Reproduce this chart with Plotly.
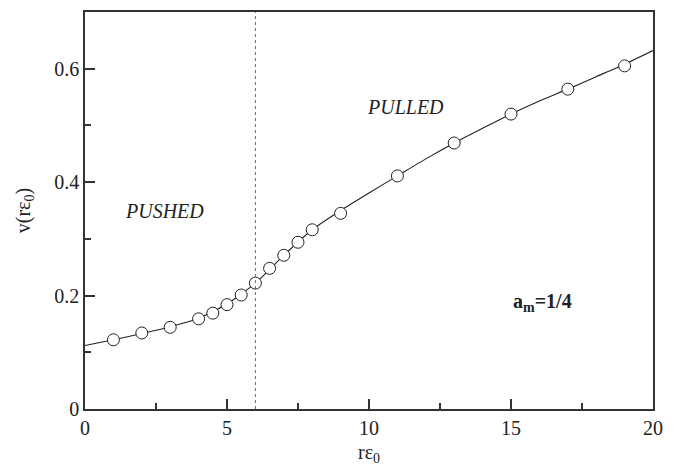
import plotly.graph_objects as go

# Data
pts_x = [1, 2, 3, 4, 4.5, 5, 5.5, 6, 6.5, 7, 7.5, 8, 9, 11, 13, 15, 17, 19]
pts_y = [0.122, 0.134, 0.144, 0.159, 0.169, 0.184, 0.201, 0.222, 0.248, 0.271,
         0.294, 0.316, 0.345, 0.411, 0.469, 0.520, 0.564, 0.605]

curve_x = [0, 1, 2, 3, 4, 5, 6, 7, 8, 9, 10, 11, 12, 13, 14, 15, 16, 17, 18, 19, 20]
curve_y = [0.112, 0.122, 0.133, 0.145, 0.160, 0.185, 0.222, 0.271, 0.316, 0.350,
           0.381, 0.411, 0.441, 0.469, 0.495, 0.520, 0.543, 0.564, 0.586, 0.608, 0.632]

x_ticks = [0, 5, 10, 15, 20]
y_ticks = [0, 0.2, 0.4, 0.6]
y_tick_labels = ["0", "0.2", "0.4", "0.6"]
boundary_x = 6

FONT = "Liberation Serif, Times New Roman, serif"
INK = "#222222"

fig = go.Figure()
fig.add_trace(go.Scatter(x=curve_x, y=curve_y, mode="lines",
                         line=dict(color=INK, width=1.1, shape="spline", smoothing=0.6),
                         hoverinfo="skip", showlegend=False))
fig.add_trace(go.Scatter(x=pts_x, y=pts_y, mode="markers",
                         marker=dict(symbol="circle", size=12, color="white",
                                     line=dict(color=INK, width=1)),
                         showlegend=False))

fig.add_shape(type="line", x0=boundary_x, x1=boundary_x, y0=0, y1=1,
              xref="x", yref="paper",
              line=dict(color="#666666", width=1, dash="dot"))

fig.add_annotation(x=2.8, y=0.349, text="<i>PUSHED</i>", showarrow=False,
                   font=dict(family=FONT, size=20, color=INK))
fig.add_annotation(x=11.3, y=0.533, text="<i>PULLED</i>", showarrow=False,
                   font=dict(family=FONT, size=20, color=INK))
fig.add_annotation(x=16.1, y=0.187, text="<b>a<sub>m</sub>=1/4</b>", showarrow=False,
                   font=dict(family=FONT, size=20, color=INK))

axis_common = dict(showgrid=False, zeroline=False, showline=True, mirror=True,
                   linecolor="#333333", linewidth=1.5, ticks="inside",
                   ticklen=10, tickwidth=1.5, tickcolor="#333333", automargin=False,
                   tickfont=dict(family=FONT, size=20, color=INK))

fig.update_xaxes(range=[0, 20], tickvals=x_ticks,
                 minor=dict(dtick=2.5, ticks="inside", ticklen=6, tickwidth=1.5,
                            tickcolor="#333333"),
                 title=dict(text="rε<sub>0</sub>", font=dict(family=FONT, size=20, color=INK),
                            standoff=7),
                 **axis_common)
fig.update_yaxes(range=[0, 0.7], tickvals=y_ticks, ticktext=y_tick_labels,
                 minor=dict(dtick=0.1, ticks="inside", ticklen=6, tickwidth=1.5,
                            tickcolor="#333333"),
                 title=dict(text="v(rε<sub>0</sub>)", font=dict(family=FONT, size=20, color=INK),
                            standoff=18),
                 **axis_common)

fig.update_layout(width=673, height=469, plot_bgcolor="white", paper_bgcolor="white",
                  margin=dict(l=85, r=20, t=12, b=60),
                  font=dict(family=FONT, color=INK))

fig.write_html("out.html", config={"displayModeBar": False},
               post_script="document.body.style.margin='0';document.body.style.overflow='hidden';")
